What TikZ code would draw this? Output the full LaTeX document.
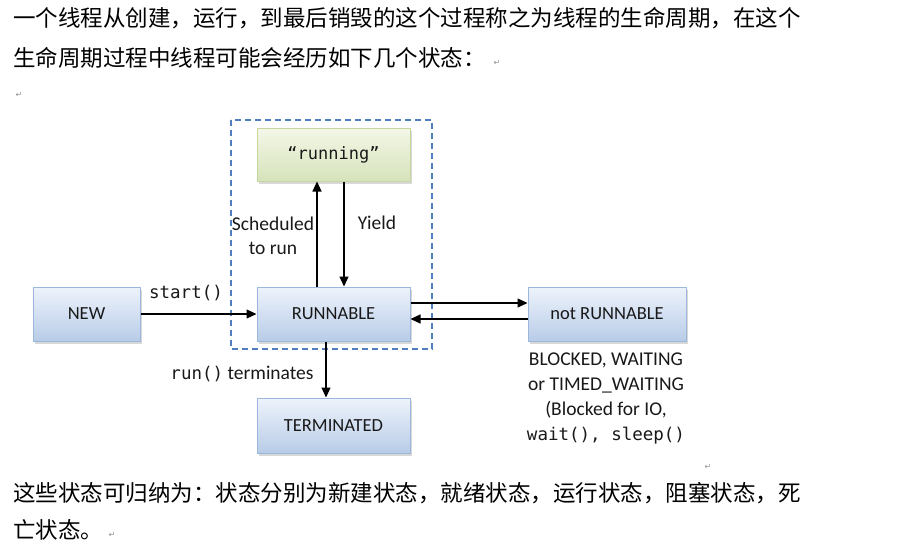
\documentclass[tikz,border=0pt]{standalone}
\usepackage{fontspec}
\setmainfont{Carlito}
\newfontfamily\cjk{Noto Sans CJK SC}
\newfontfamily\mono{DejaVu Sans Mono}
\newfontfamily\sym{DejaVu Sans}
\usetikzlibrary{shadows,arrows.meta}
\definecolor{bluetop}{HTML}{EEF3FB}
\definecolor{bluebot}{HTML}{B8CCE8}
\definecolor{blueedge}{HTML}{9BB7DB}
\definecolor{greentop}{HTML}{F4F7E8}
\definecolor{greenbot}{HTML}{D6E3BA}
\definecolor{greenedge}{HTML}{C5D79F}
\definecolor{dashblue}{HTML}{4F7FBF}
\definecolor{markgray}{HTML}{909090}
\tikzset{
  statebox/.style={rectangle, draw=blueedge, line width=1pt, top color=bluetop, bottom color=bluebot,
    drop shadow={shadow xshift=2pt, shadow yshift=-2.5pt, fill=black!25, opacity=0.6},
    font=\fontsize{18.5}{20}\selectfont, text=black!90},
  greenbox/.style={statebox, draw=greenedge, top color=greentop, bottom color=greenbot},
  arr/.style={line width=1.2pt, -{Triangle[length=10pt,width=9pt]}},
  lbl/.style={font=\fontsize{19.5}{21}\selectfont, text=black!90, inner sep=0pt},
  monofont/.style={font=\mono\fontsize{17.5}{20}\selectfont},
  cjktext/.style={anchor=west, inner sep=0pt, font=\cjk\fontsize{22.5}{24}\selectfont},
  retmark/.style={inner sep=0pt, text=markgray, font=\sym\fontsize{8}{8}\selectfont}
}
\begin{document}
\begin{tikzpicture}[x=1pt,y=-1pt]
\useasboundingbox[fill=white] (0,0) rectangle (910,551);
% top text
\node[cjktext] (t1) at (13,18) {一个线程从创建，运行，到最后销毁的这个过程称之为线程的生命周期，在这个};
\node[cjktext] (t2) at (13,58) {生命周期过程中线程可能会经历如下几个状态：};
\node[retmark] (r1) at (497,63) {↵};
\node[retmark] (r2) at (19,95) {↵};
% dashed group
\draw[dashblue, line width=1.2pt, dash pattern=on 6pt off 4pt] (231,120) rectangle (432,349);
% boxes
\node[greenbox, minimum width=153pt, minimum height=53pt] (running) at (333.5,154.5) {\mono\fontsize{17}{18}\selectfont “running”};
\node[statebox, minimum width=153pt, minimum height=54pt] (runnable) at (333.5,314) {RUNNABLE};
\node[statebox, minimum width=107pt, minimum height=54pt] (new) at (86.5,314) {NEW};
\node[statebox, minimum width=158pt, minimum height=54pt] (notr) at (607,314) {not RUNNABLE};
\node[statebox, minimum width=153pt, minimum height=55pt] (term) at (333.5,425.5) {TERMINATED};
% connectors
\coordinate (sx) at (317,0);
\coordinate (yx) at (344,0);
\coordinate (tx) at (326,0);
\coordinate (fy) at (0,303);
\coordinate (by) at (0,319);
\draw[arr] (runnable.north -| sx) -- (running.south -| sx);
\draw[arr] (running.south -| yx) -- (runnable.north -| yx);
\draw[arr] (new.east) -- (runnable.west);
\draw[arr] (runnable.east |- fy) -- (notr.west |- fy);
\draw[arr] (notr.west |- by) -- (runnable.east |- by);
\draw[arr] (runnable.south -| tx) -- (term.north -| tx);
% labels
\node[lbl, monofont] (lstart) at (186,293) {start()};
\node[lbl] (lsch) at (273,224) {Scheduled};
\node[lbl] (lrun) at (273,248) {to run};
\node[lbl] (lyield) at (377,223) {Yield};
\node[lbl] (lterm) at (242,374) {{\mono\fontsize{17.5}{20}\selectfont run()} terminates};
\node[lbl] (d1) at (606,360) {BLOCKED, WAITING};
\node[lbl] (d2) at (606,385) {or TIMED\_WAITING};
\node[lbl] (d3) at (606,410) {(Blocked for IO,};
\node[lbl, monofont] (d4) at (606,436) {wait(), sleep()};
% bottom text
\node[retmark] (r3) at (708,467) {↵};
\node[cjktext] (b1) at (13,493) {这些状态可归纳为：状态分别为新建状态，就绪状态，运行状态，阻塞状态，死};
\node[cjktext] (b2) at (13,530) {亡状态。};
\node[retmark] (r4) at (112,535) {↵};
\end{tikzpicture}
\end{document}
